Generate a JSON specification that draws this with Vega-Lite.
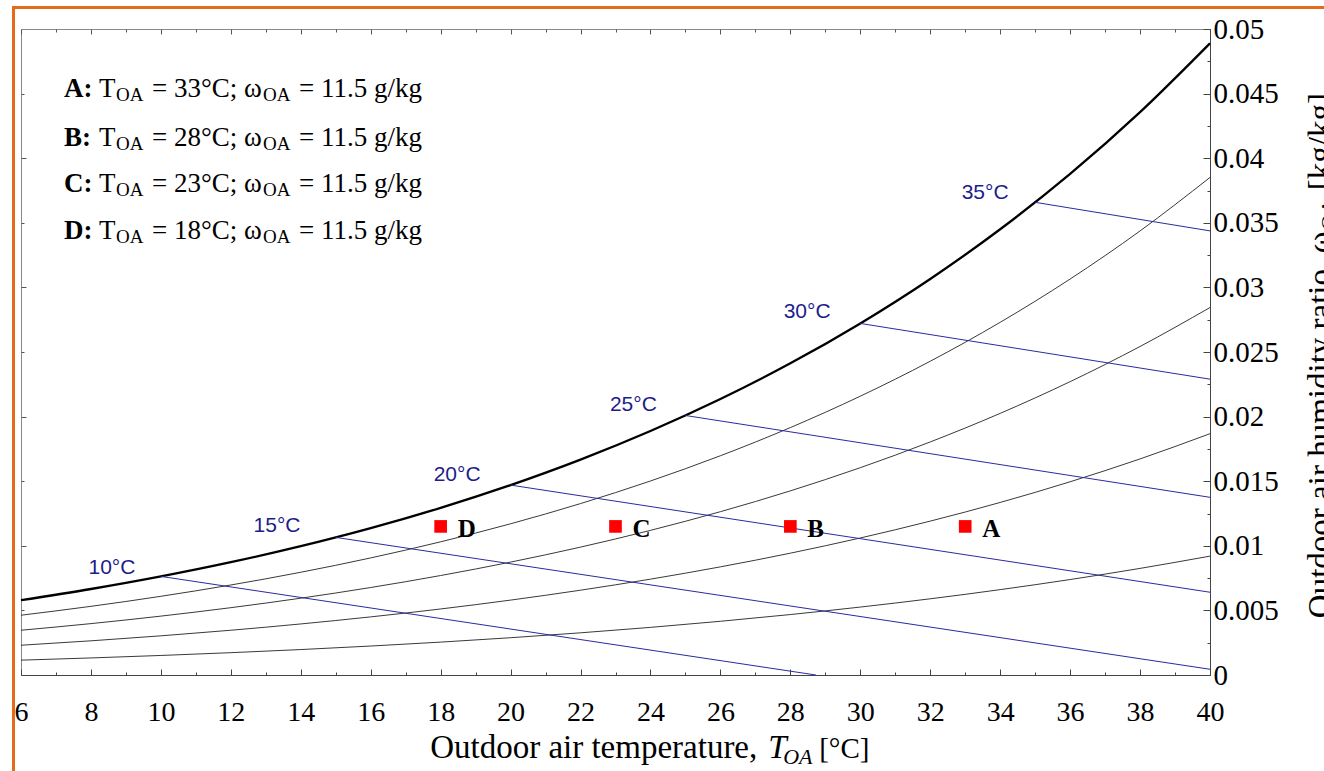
{
  "$schema": "https://vega.github.io/schema/vega-lite/v6.json",
  "width": 1189,
  "height": 646,
  "autosize": "none",
  "padding": {"left": 21, "top": 29, "right": 114, "bottom": 96},
  "background": "white",
  "config": {"view": {"stroke": "#888", "strokeWidth": 1}, "axis": {"grid": false}},
  "datasets": {
    "sat": [
      {"T": 6, "w": 0.005794}, {"T": 8, "w": 0.006657}, {"T": 10, "w": 0.007632}, {"T": 12, "w": 0.008732},
      {"T": 14, "w": 0.009973}, {"T": 16, "w": 0.011369}, {"T": 18, "w": 0.012938}, {"T": 20, "w": 0.014699},
      {"T": 22, "w": 0.016673}, {"T": 24, "w": 0.018884}, {"T": 26, "w": 0.021358}, {"T": 28, "w": 0.024122},
      {"T": 30, "w": 0.02721}, {"T": 32, "w": 0.030655}, {"T": 34, "w": 0.0345}, {"T": 36, "w": 0.038786},
      {"T": 38, "w": 0.043566}, {"T": 40, "w": 0.048894}
    ],
    "rh": [
      {"rh": 80, "T": 6, "w": 0.004627}, {"rh": 80, "T": 8, "w": 0.005314}, {"rh": 80, "T": 10, "w": 0.006091}, {"rh": 80, "T": 12, "w": 0.006966},
      {"rh": 80, "T": 14, "w": 0.007952}, {"rh": 80, "T": 16, "w": 0.009062}, {"rh": 80, "T": 18, "w": 0.010308}, {"rh": 80, "T": 20, "w": 0.011704},
      {"rh": 80, "T": 22, "w": 0.013267}, {"rh": 80, "T": 24, "w": 0.015016}, {"rh": 80, "T": 26, "w": 0.01697}, {"rh": 80, "T": 28, "w": 0.019149},
      {"rh": 80, "T": 30, "w": 0.021579}, {"rh": 80, "T": 32, "w": 0.024285}, {"rh": 80, "T": 34, "w": 0.027297}, {"rh": 80, "T": 36, "w": 0.030647},
      {"rh": 80, "T": 38, "w": 0.034371}, {"rh": 80, "T": 40, "w": 0.03851},
      {"rh": 60, "T": 6, "w": 0.003464}, {"rh": 60, "T": 8, "w": 0.003977}, {"rh": 60, "T": 10, "w": 0.004557}, {"rh": 60, "T": 12, "w": 0.00521},
      {"rh": 60, "T": 14, "w": 0.005945}, {"rh": 60, "T": 16, "w": 0.006772}, {"rh": 60, "T": 18, "w": 0.007699}, {"rh": 60, "T": 20, "w": 0.008737},
      {"rh": 60, "T": 22, "w": 0.009898}, {"rh": 60, "T": 24, "w": 0.011194}, {"rh": 60, "T": 26, "w": 0.012641}, {"rh": 60, "T": 28, "w": 0.014252},
      {"rh": 60, "T": 30, "w": 0.016045}, {"rh": 60, "T": 32, "w": 0.018038}, {"rh": 60, "T": 34, "w": 0.02025}, {"rh": 60, "T": 36, "w": 0.022705},
      {"rh": 60, "T": 38, "w": 0.025427}, {"rh": 60, "T": 40, "w": 0.028442},
      {"rh": 40, "T": 6, "w": 0.002305}, {"rh": 40, "T": 8, "w": 0.002646}, {"rh": 40, "T": 10, "w": 0.003031}, {"rh": 40, "T": 12, "w": 0.003464},
      {"rh": 40, "T": 14, "w": 0.003951}, {"rh": 40, "T": 16, "w": 0.004498}, {"rh": 40, "T": 18, "w": 0.005111}, {"rh": 40, "T": 20, "w": 0.005797},
      {"rh": 40, "T": 22, "w": 0.006564}, {"rh": 40, "T": 24, "w": 0.007419}, {"rh": 40, "T": 26, "w": 0.008371}, {"rh": 40, "T": 28, "w": 0.009429},
      {"rh": 40, "T": 30, "w": 0.010605}, {"rh": 40, "T": 32, "w": 0.01191}, {"rh": 40, "T": 34, "w": 0.013355}, {"rh": 40, "T": 36, "w": 0.014955},
      {"rh": 40, "T": 38, "w": 0.016724}, {"rh": 40, "T": 40, "w": 0.018677},
      {"rh": 20, "T": 6, "w": 0.00115}, {"rh": 20, "T": 8, "w": 0.00132}, {"rh": 20, "T": 10, "w": 0.001512}, {"rh": 20, "T": 12, "w": 0.001727},
      {"rh": 20, "T": 14, "w": 0.001969}, {"rh": 20, "T": 16, "w": 0.002241}, {"rh": 20, "T": 18, "w": 0.002545}, {"rh": 20, "T": 20, "w": 0.002885},
      {"rh": 20, "T": 22, "w": 0.003265}, {"rh": 20, "T": 24, "w": 0.003687}, {"rh": 20, "T": 26, "w": 0.004157}, {"rh": 20, "T": 28, "w": 0.004679},
      {"rh": 20, "T": 30, "w": 0.005258}, {"rh": 20, "T": 32, "w": 0.005898}, {"rh": 20, "T": 34, "w": 0.006607}, {"rh": 20, "T": 36, "w": 0.007389},
      {"rh": 20, "T": 38, "w": 0.008251}, {"rh": 20, "T": 40, "w": 0.0092}
    ],
    "wb": [
      {"wb": 10, "T": 10, "w": 0.007632}, {"wb": 10, "T": 28.73, "w": 0},
      {"wb": 15, "T": 15, "w": 0.01065}, {"wb": 15, "T": 40, "w": 0.000443},
      {"wb": 20, "T": 20, "w": 0.014699}, {"wb": 20, "T": 40, "w": 0.006405},
      {"wb": 25, "T": 25, "w": 0.020086}, {"wb": 25, "T": 40, "w": 0.013752},
      {"wb": 30, "T": 30, "w": 0.02721}, {"wb": 30, "T": 40, "w": 0.022898},
      {"wb": 35, "T": 35, "w": 0.036585}, {"wb": 35, "T": 40, "w": 0.034374}
    ],
    "wblab": [
      {"lab": "10°C", "T": 8.6, "w": 0.00828},
      {"lab": "15°C", "T": 13.32, "w": 0.01153},
      {"lab": "20°C", "T": 18.47, "w": 0.01548},
      {"lab": "25°C", "T": 23.51, "w": 0.0209},
      {"lab": "30°C", "T": 28.48, "w": 0.0281},
      {"lab": "35°C", "T": 33.57, "w": 0.03731}
    ],
    "pts": [
      {"p": "A", "T": 33, "w": 0.0115},
      {"p": "B", "T": 28, "w": 0.0115},
      {"p": "C", "T": 23, "w": 0.0115},
      {"p": "D", "T": 18, "w": 0.0115}
    ],
    "legend": [
      {"lbl": "A:", "eq": "= 33°C; ω", "w": 0.04474},
      {"lbl": "B:", "eq": "= 28°C; ω", "w": 0.04094},
      {"lbl": "C:", "eq": "= 23°C; ω", "w": 0.03738},
      {"lbl": "D:", "eq": "= 18°C; ω", "w": 0.03375}
    ],
    "one": [{"k": 1}]
  },
  "resolve": {"axis": {"x": "independent", "y": "independent"}},
  "layer": [
    {
      "data": {"name": "rh"},
      "mark": {"type": "line", "stroke": "#222", "strokeWidth": 0.9, "interpolate": "monotone"},
      "encoding": {
        "x": {"field": "T", "type": "quantitative", "scale": {"domain": [6, 40], "nice": false, "zero": false},
          "axis": {"orient": "bottom", "values": [6,8,10,12,14,16,18,20,22,24,26,28,30,32,34,36,38,40], "labels": false, "domain": false, "tickSize": -6, "tickColor": "#444", "tickWidth": 1, "title": null}},
        "y": {"field": "w", "type": "quantitative", "scale": {"domain": [0, 0.05], "nice": false, "zero": false},
          "axis": {"orient": "right", "values": [0,0.005,0.01,0.015,0.02,0.025,0.03,0.035,0.04,0.045,0.05], "labels": false, "domain": false, "tickSize": -7, "tickColor": "#444", "tickWidth": 1, "title": null}},
        "detail": {"field": "rh", "type": "nominal"}
      }
    },
    {
      "data": {"name": "sat"},
      "mark": {"type": "line", "stroke": "#000", "strokeWidth": 2.3, "interpolate": "monotone"},
      "encoding": {
        "x": {"field": "T", "type": "quantitative", "scale": {"domain": [6, 40], "nice": false, "zero": false},
          "axis": {"orient": "bottom", "values": [6,8,10,12,14,16,18,20,22,24,26,28,30,32,34,36,38,40], "ticks": false, "domain": true, "domainColor": "#444", "labelFont": "Liberation Serif", "labelFontSize": 28, "labelColor": "#000", "labelBaseline": "alphabetic", "labelPadding": 45, "labelFlush": false, "title": null}},
        "y": {"field": "w", "type": "quantitative", "scale": {"domain": [0, 0.05], "nice": false, "zero": false},
          "axis": {"orient": "right", "values": [0,0.005,0.01,0.015,0.02,0.025,0.03,0.035,0.04,0.045,0.05], "ticks": false, "domain": true, "domainColor": "#444", "labelFont": "Liberation Serif", "labelFontSize": 29, "labelColor": "#000", "labelBaseline": "middle", "labelPadding": 3, "labelFlush": false, "format": "~g", "title": null}}
      }
    },
    {
      "data": {"name": "wb"},
      "mark": {"type": "line", "stroke": "#2a2aa0", "strokeWidth": 1},
      "encoding": {
        "x": {"field": "T", "type": "quantitative",
          "axis": {"orient": "bottom", "values": [7,9,11,13,15,17,19,21,23,25,27,29,31,33,35,37,39], "labels": false, "domain": false, "tickSize": -3, "tickColor": "#444", "title": null}},
        "y": {"field": "w", "type": "quantitative",
          "axis": {"orient": "right", "values": [0.0025,0.0075,0.0125,0.0175,0.0225,0.0275,0.0325,0.0375,0.0425,0.0475], "labels": false, "domain": false, "tickSize": -3, "tickColor": "#444", "title": null}},
        "detail": {"field": "wb", "type": "nominal"}
      }
    },
    {
      "data": {"name": "wblab"},
      "mark": {"type": "text", "font": "Liberation Sans", "fontSize": 21, "fill": "#1c1c8c", "align": "center", "baseline": "middle"},
      "encoding": {
        "x": {"field": "T", "type": "quantitative",
          "axis": {"orient": "top", "values": [7,9,11,13,15,17,19,21,23,25,27,29,31,33,35,37,39], "labels": false, "domain": false, "tickSize": -3, "tickColor": "#555", "title": null}},
        "y": {"field": "w", "type": "quantitative",
          "axis": {"orient": "left", "values": [0.005,0.015,0.025,0.035,0.045], "labels": false, "domain": false, "tickSize": -3, "tickColor": "#555", "title": null}},
        "text": {"field": "lab"}
      }
    },
    {
      "data": {"name": "pts"},
      "mark": {"type": "square", "size": 160, "fill": "#ff0000", "opacity": 1, "strokeWidth": 0},
      "encoding": {
        "x": {"field": "T", "type": "quantitative",
          "axis": {"orient": "top", "values": [6,8,10,12,14,16,18,20,22,24,26,28,30,32,34,36,38,40], "labels": false, "domain": false, "tickSize": -5, "tickColor": "#555", "title": null}},
        "y": {"field": "w", "type": "quantitative",
          "axis": {"orient": "left", "values": [0.01,0.02,0.03,0.04], "labels": false, "domain": false, "tickSize": -5, "tickColor": "#555", "title": null}}
      }
    },
    {
      "data": {"name": "pts"},
      "mark": {"type": "text", "font": "Liberation Serif", "fontWeight": "bold", "fontSize": 25, "fill": "#000", "align": "left", "baseline": "middle", "dx": 17, "dy": 3},
      "encoding": {
        "x": {"field": "T", "type": "quantitative", "axis": null},
        "y": {"field": "w", "type": "quantitative", "axis": null},
        "text": {"field": "p"}
      }
    },
    {
      "data": {"name": "legend"},
      "mark": {"type": "text", "font": "Liberation Serif", "fontWeight": "bold", "fontSize": 27, "fill": "#000", "align": "left", "baseline": "alphabetic"},
      "encoding": {
        "x": {"datum": 7.23, "type": "quantitative", "axis": null},
        "y": {"field": "w", "type": "quantitative", "axis": null},
        "text": {"field": "lbl"}
      }
    },
    {
      "data": {"name": "legend"},
      "mark": {"type": "text", "text": "T", "font": "Liberation Serif", "fontSize": 27, "fill": "#000", "align": "left", "baseline": "alphabetic", "dx": 35},
      "encoding": {
        "x": {"datum": 7.23, "type": "quantitative", "axis": null},
        "y": {"field": "w", "type": "quantitative", "axis": null}
      }
    },
    {
      "data": {"name": "legend"},
      "mark": {"type": "text", "text": "OA", "font": "Liberation Serif", "fontSize": 19, "fill": "#000", "align": "left", "baseline": "alphabetic", "dx": 52, "dy": 4},
      "encoding": {
        "x": {"datum": 7.23, "type": "quantitative", "axis": null},
        "y": {"field": "w", "type": "quantitative", "axis": null}
      }
    },
    {
      "data": {"name": "legend"},
      "mark": {"type": "text", "font": "Liberation Serif", "fontSize": 27, "fill": "#000", "align": "left", "baseline": "alphabetic", "dx": 88},
      "encoding": {
        "x": {"datum": 7.23, "type": "quantitative", "axis": null},
        "y": {"field": "w", "type": "quantitative", "axis": null},
        "text": {"field": "eq"}
      }
    },
    {
      "data": {"name": "legend"},
      "mark": {"type": "text", "text": "OA", "font": "Liberation Serif", "fontSize": 19, "fill": "#000", "align": "left", "baseline": "alphabetic", "dx": 199, "dy": 4},
      "encoding": {
        "x": {"datum": 7.23, "type": "quantitative", "axis": null},
        "y": {"field": "w", "type": "quantitative", "axis": null}
      }
    },
    {
      "data": {"name": "legend"},
      "mark": {"type": "text", "text": "= 11.5 g/kg", "font": "Liberation Serif", "fontSize": 27, "fill": "#000", "align": "left", "baseline": "alphabetic", "dx": 235},
      "encoding": {
        "x": {"datum": 7.23, "type": "quantitative", "axis": null},
        "y": {"field": "w", "type": "quantitative", "axis": null}
      }
    },
    {
      "data": {"name": "one"},
      "mark": {"type": "text", "text": "Outdoor air temperature,", "font": "Liberation Serif", "fontSize": 33, "fill": "#000", "align": "left", "baseline": "alphabetic"},
      "encoding": {
        "x": {"datum": 17.7, "type": "quantitative", "axis": null},
        "y": {"datum": -0.00642, "type": "quantitative", "axis": null}
      }
    },
    {
      "data": {"name": "one"},
      "mark": {"type": "text", "text": "T", "font": "Liberation Serif", "fontStyle": "italic", "fontSize": 33, "fill": "#000", "align": "left", "baseline": "alphabetic", "dx": 338},
      "encoding": {
        "x": {"datum": 17.7, "type": "quantitative", "axis": null},
        "y": {"datum": -0.00642, "type": "quantitative", "axis": null}
      }
    },
    {
      "data": {"name": "one"},
      "mark": {"type": "text", "text": "OA", "font": "Liberation Serif", "fontStyle": "italic", "fontSize": 22, "fill": "#000", "align": "left", "baseline": "alphabetic", "dx": 353, "dy": 6},
      "encoding": {
        "x": {"datum": 17.7, "type": "quantitative", "axis": null},
        "y": {"datum": -0.00642, "type": "quantitative", "axis": null}
      }
    },
    {
      "data": {"name": "one"},
      "mark": {"type": "text", "text": "[°C]", "font": "Liberation Serif", "fontSize": 29, "fill": "#000", "align": "left", "baseline": "alphabetic", "dx": 389},
      "encoding": {
        "x": {"datum": 17.7, "type": "quantitative", "axis": null},
        "y": {"datum": -0.00642, "type": "quantitative", "axis": null}
      }
    },
    {
      "data": {"name": "one"},
      "mark": {"type": "text", "text": "Outdoor air humidity ratio,", "angle": 270, "font": "Liberation Serif", "fontSize": 33, "fill": "#000", "align": "left", "baseline": "alphabetic"},
      "encoding": {
        "x": {"datum": 43.47, "type": "quantitative", "axis": null},
        "y": {"datum": 0.0044, "type": "quantitative", "axis": null}
      }
    },
    {
      "data": {"name": "one"},
      "mark": {"type": "text", "text": "ω", "angle": 270, "font": "Liberation Serif", "fontSize": 33, "fill": "#000", "align": "left", "baseline": "alphabetic", "dx": 365},
      "encoding": {
        "x": {"datum": 43.47, "type": "quantitative", "axis": null},
        "y": {"datum": 0.0044, "type": "quantitative", "axis": null}
      }
    },
    {
      "data": {"name": "one"},
      "mark": {"type": "text", "text": "OA", "angle": 270, "font": "Liberation Serif", "fontSize": 22, "fill": "#000", "align": "left", "baseline": "alphabetic", "dx": 388, "dy": 5},
      "encoding": {
        "x": {"datum": 43.47, "type": "quantitative", "axis": null},
        "y": {"datum": 0.0044, "type": "quantitative", "axis": null}
      }
    },
    {
      "data": {"name": "one"},
      "mark": {"type": "text", "text": "[kg/kg]", "angle": 270, "font": "Liberation Serif", "fontSize": 33, "fill": "#000", "align": "left", "baseline": "alphabetic", "dx": 428},
      "encoding": {
        "x": {"datum": 43.47, "type": "quantitative", "axis": null},
        "y": {"datum": 0.0044, "type": "quantitative", "axis": null}
      }
    },
    {
      "data": {"name": "one"},
      "mark": {"type": "rect", "filled": false, "stroke": "#e26b1c", "strokeWidth": 3},
      "encoding": {
        "x": {"datum": 5.785, "type": "quantitative", "axis": null},
        "x2": {"datum": 46},
        "y": {"datum": 0.05166, "type": "quantitative", "axis": null},
        "y2": {"datum": -0.012}
      }
    }
  ]
}
